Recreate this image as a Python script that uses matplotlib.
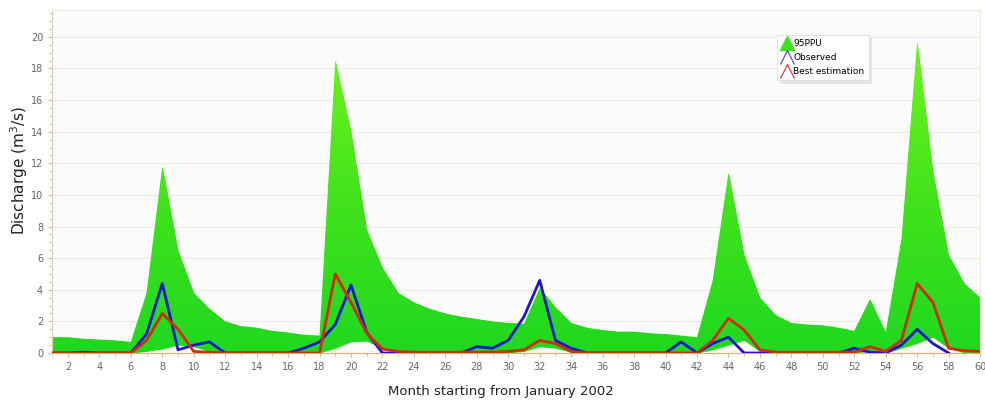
import numpy as np
import matplotlib.pyplot as plt
from matplotlib.lines import Line2D
from matplotlib.path import Path
from matplotlib.ticker import MultipleLocator
from matplotlib.colors import LinearSegmentedColormap

months = list(range(1, 61))

ppu_upper = [1.0, 1.0, 0.9, 0.85, 0.8, 0.7, 3.8, 11.8, 6.5, 3.8,
             2.8, 2.0, 1.7, 1.6, 1.4, 1.3, 1.15, 1.1, 18.5, 14.0,
             7.8, 5.4, 3.8, 3.2, 2.8, 2.5, 2.3, 2.15, 2.0, 1.9,
             1.85, 4.1, 2.9, 1.9, 1.6, 1.45, 1.35, 1.35, 1.25, 1.2,
             1.1, 1.0, 4.6, 11.4, 6.2, 3.5, 2.4, 1.9, 1.8, 1.75,
             1.6, 1.4, 3.4, 1.3, 7.2, 19.7, 11.5, 6.2, 4.4, 3.5]

ppu_lower = [0.0, 0.0, 0.0, 0.0, 0.0, 0.0, 0.1, 0.25, 0.5, 0.4,
             0.1, 0.0, 0.0, 0.0, 0.0, 0.0, 0.0, 0.0, 0.3, 0.7,
             0.75, 0.3, 0.1, 0.0, 0.0, 0.0, 0.0, 0.0, 0.0, 0.0,
             0.1, 0.4, 0.3, 0.05, 0.0, 0.0, 0.0, 0.0, 0.0, 0.0,
             0.0, 0.0, 0.2, 0.5, 0.8, 0.1, 0.0, 0.0, 0.0, 0.0,
             0.0, 0.0, 0.1, 0.0, 0.3, 0.6, 1.0, 0.3, 0.0, 0.0]

observed = [0.0, 0.0, 0.05, 0.0, 0.0, 0.0, 1.2, 4.4, 0.2, 0.5,
            0.7, 0.0, 0.0, 0.0, 0.0, 0.0, 0.3, 0.7, 1.8, 4.3,
            1.3, 0.0, 0.0, 0.0, 0.0, 0.0, 0.0, 0.4, 0.3, 0.8,
            2.3, 4.6, 0.8, 0.3, 0.0, 0.0, 0.0, 0.0, 0.0, 0.0,
            0.7, 0.0, 0.6, 1.0, 0.0, 0.0, 0.0, 0.0, 0.0, 0.0,
            0.0, 0.3, 0.05, 0.0, 0.5, 1.5, 0.6, 0.0, np.nan, np.nan]

best_est = [0.0, 0.0, 0.0, 0.0, 0.0, 0.0, 0.8, 2.5, 1.5, 0.1,
            0.05, 0.0, 0.0, 0.0, 0.0, 0.0, 0.0, 0.0, 5.0, 3.2,
            1.25, 0.25, 0.1, 0.05, 0.05, 0.05, 0.05, 0.05, 0.05, 0.1,
            0.2, 0.8, 0.6, 0.1, 0.0, 0.0, 0.0, 0.0, 0.0, 0.0,
            0.0, 0.0, 0.8, 2.2, 1.45, 0.2, 0.05, 0.05, 0.05, 0.05,
            0.05, 0.05, 0.4, 0.1, 0.8, 4.4, 3.2, 0.3, 0.15, 0.1]

fig = plt.figure(figsize=(9.85, 4.0), dpi=100)
ax = fig.add_axes([0.053, 0.1175, 0.942, 0.8575])
ax.set_facecolor("#fbfbfb")

ax.set_xlim(1, 60)
ax.set_ylim(0, 21.7)

# 95PPU band with a vertical green gradient
band = ax.fill_between(months, ppu_lower, ppu_upper, color="#3ee01c", lw=0)
grad = np.linspace(0, 1, 256).reshape(-1, 1)
cmap = LinearSegmentedColormap.from_list("g", ["#1fd81f", "#44e31c", "#72f41e"])
img = ax.imshow(grad, cmap=cmap, aspect="auto", origin="lower",
                extent=[1, 60, 0, 20], zorder=band.get_zorder() + 0.1)
img.set_clip_path(band.get_paths()[0], transform=ax.transData)

ax.plot(months, observed, color="#1818c8", lw=2, zorder=3)
ax.plot(months, best_est, color="#d02c10", lw=2, zorder=4)

ax.yaxis.set_minor_locator(MultipleLocator(0.5))
ax.xaxis.set_minor_locator(MultipleLocator(1))
ax.set_yticks(range(0, 21, 2))
ax.set_xticks(range(2, 61, 2))
ax.grid(axis="y", color="#efe9df", lw=0.8)
ax.set_axisbelow(True)

for s in ["top", "right"]:
    ax.spines[s].set_color("#f0ebe0")
ax.spines["left"].set_color("#d9cbb0")
ax.spines["bottom"].set_color("#e0b070")
ax.tick_params(axis="both", which="both", colors="#cbbd9f", labelcolor="#666666",
               labelsize=7, length=3)
ax.tick_params(axis="both", which="minor", length=2)

fig.text(0.019, 0.575, "Discharge (m$^3$/s)", rotation=90, fontsize=11,
         color="#222222", ha="center", va="center")
fig.text(0.508, 0.02, "Month starting from January 2002", fontsize=9.5,
         color="#222222", ha="center", va="center")

chevron = Path([(-1, -1), (0, 1), (1, -1)], [Path.MOVETO, Path.LINETO, Path.LINETO])
handles = [
    Line2D([], [], ls="none", marker="^", markersize=10, color="#3ee01c"),
    Line2D([], [], ls="none", marker=chevron, markersize=10, markerfacecolor="none",
           markeredgecolor="#5050e0", markeredgewidth=0.9),
    Line2D([], [], ls="none", marker=chevron, markersize=10, markerfacecolor="none",
           markeredgecolor="#e04040", markeredgewidth=0.9),
]
leg = ax.legend(handles, ["95PPU", "Observed", "Best estimation"],
                loc="upper left", bbox_to_anchor=(0.776, 0.94), fontsize=6.5,
                frameon=True, fancybox=False, shadow={"color": "#e4e4e4", "alpha": 1},
                handletextpad=0.1, borderpad=0.45, labelspacing=0.55,
                handlelength=1.3)
leg.get_frame().set_edgecolor("#dddddd")
leg.get_frame().set_linewidth(0.6)

fig.savefig("out.png", dpi=100)
